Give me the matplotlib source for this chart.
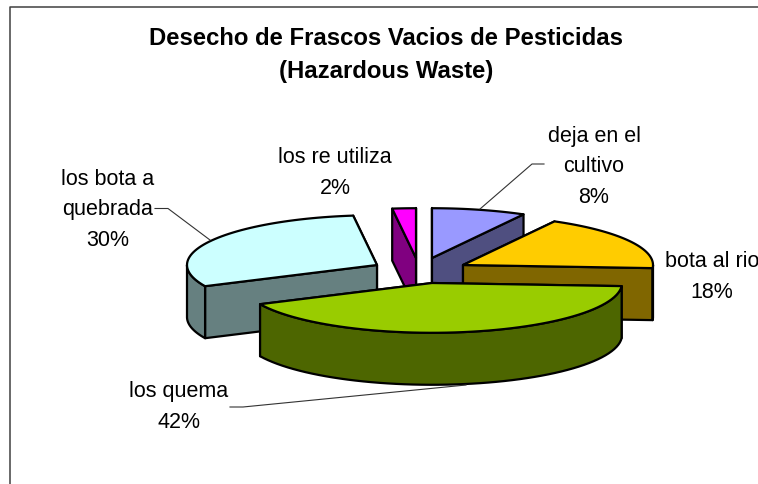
import numpy as np
import matplotlib
matplotlib.use("Agg")
import matplotlib.pyplot as plt
from matplotlib.patches import Polygon

plt.rcParams['font.family'] = ['Liberation Sans', 'DejaVu Sans']

labels = ["deja en el\ncultivo", "bota al rio", "los quema", "los bota a\nquebrada", "los re utiliza"]
values = [8, 18, 42, 30, 2]
top_colors = ["#9999FF", "#FFCC00", "#99CC00", "#CCFFFF", "#FF00FF"]
side_colors = ["#4F4F80", "#806600", "#4D6600", "#668080", "#800080"]

# exploded apex of every slice, in picture pixels
apex = [(432, 258), (463, 265), (432, 283), (377, 265), (416, 258)]
label_pos = [(594, 167), (712, 277), (179, 407), (107.5, 210), (335, 173)]
leaders = [
    [(480, 209), (532, 164), (544, 164)],
    [],
    [(230, 407), (243, 407), (466, 385)],
    [(155, 208.5), (168, 208.5), (210, 240)],
    [],
]
draw_order = [0, 4, 3, 1, 2]

R = 190
K = 0.262
DEPTH = 52


def project(center, ang):
    a = np.radians(ang)
    return center[0] + R * np.sin(a), center[1] - R * K * np.cos(a)


def draw_slice(ax, center, a0, a1, top, side):
    edge = dict(edgecolor="black", linewidth=1.6, joinstyle="round")
    # cut faces, the one nearer the front last
    faces = sorted([a0, a1], key=lambda a: -np.cos(np.radians(a)))
    for a in faces:
        x, y = project(center, a)
        pts = [center, (x, y), (x, y + DEPTH), (center[0], center[1] + DEPTH)]
        ax.add_patch(Polygon(pts, closed=True, facecolor=side, **edge))
    # outer wall, front part only
    w0, w1 = max(a0, 90), min(a1, 270)
    if w1 > w0:
        angs = np.linspace(w0, w1, 60)
        xs, ys = project(center, angs)
        pts = list(zip(xs, ys)) + list(zip(xs[::-1], ys[::-1] + DEPTH))
        ax.add_patch(Polygon(pts, closed=True, facecolor=side, **edge))
    angs = np.linspace(a0, a1, 60)
    xs, ys = project(center, angs)
    pts = [center] + list(zip(xs, ys))
    ax.add_patch(Polygon(pts, closed=True, facecolor=top, **edge))


fig = plt.figure(figsize=(7.58, 4.84), dpi=100)
ax = fig.add_axes([0, 0, 1, 1])
ax.set_xlim(0, 758)
ax.set_ylim(484, 0)
ax.axis("off")

ax.plot([9.5, 9.5, 770], [500, 6.5, 6.5], color="#404040", lw=1.1)

ax.text(386, 55, "Desecho de Frascos Vacios de Pesticidas\n(Hazardous Waste)",
        ha="center", va="center", fontsize=17.2, fontweight="bold",
        linespacing=1.56, color="black")

total = sum(values)
ends = np.cumsum(values) / total * 360
starts = np.concatenate([[0], ends[:-1]])

for i in draw_order:
    draw_slice(ax, apex[i], starts[i], ends[i], top_colors[i], side_colors[i])

for i, lab in enumerate(labels):
    ax.text(label_pos[i][0], label_pos[i][1], f"{lab}\n{values[i]}%", ha="center",
            va="center", fontsize=15.5, linespacing=1.58, color="black", clip_on=True)
    if leaders[i]:
        xs, ys = zip(*leaders[i])
        ax.plot(xs, ys, color="#333333", lw=0.8)

fig.savefig("out.png", dpi=100)
